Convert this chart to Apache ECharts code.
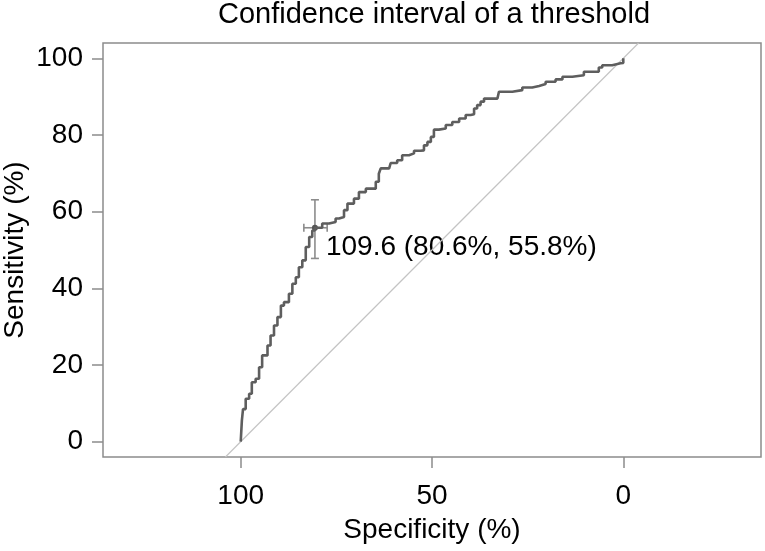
<!DOCTYPE html>
<html>
<head>
<meta charset="utf-8">
<script src="https://cdn.jsdelivr.net/npm/echarts@6/dist/echarts.min.js"></script>
<style>
html,body{margin:0;padding:0;background:#fff;}
#main{width:765px;height:551px;}
</style>
</head>
<body>
<div id="main"></div>
<script>
// ROC curve points (specificity %, sensitivity %)
const specificity = [100, 99.7, 99.4, 98.7, 97.8, 97.1, 96.1, 95.2, 94.4, 93.0, 92.2, 91.3, 90.4, 89.5, 88.7, 87.4, 86.5, 85.6, 84.8, 83.9, 83.0, 82.1, 81.3, 80.6, 78.7, 76.9, 75.2, 74.3, 73.0, 72.1, 70.4, 69.1, 67.3, 65.6, 64.7, 63.9, 63.4, 61.2, 60.8, 59.1, 57.8, 56.0, 54.7, 53.0, 52.1, 51.2, 50.3, 49.5, 48.2, 46.4, 44.7, 42.9, 41.2, 39.9, 39.0, 38.2, 37.3, 36.4, 32.9, 32.5, 29.0, 26.4, 23.8, 22.0, 20.3, 17.7, 15.9, 13.3, 10.3, 6.4, 5.5, 2.9, 0.7, 0];
const sensitivity = [0, 5.5, 8.5, 11.2, 12.5, 15.5, 16.4, 19.4, 22.5, 25.1, 27.7, 30.3, 32.5, 35.5, 36.4, 38.6, 41.2, 42.9, 45.5, 47.3, 50.8, 53.4, 55.1, 55.8, 56.9, 57.3, 58.2, 58.6, 60.4, 62.1, 63.4, 65.1, 66.0, 66.0, 67.8, 69.9, 71.3, 71.3, 72.7, 73.4, 74.7, 75.2, 75.9, 76.0, 77.3, 78.2, 79.5, 81.4, 81.7, 82.6, 83.4, 84.3, 85.2, 85.4, 86.9, 87.8, 88.7, 89.5, 89.5, 91.3, 91.7, 92.4, 92.8, 93.3, 93.9, 94.5, 95.2, 95.6, 96.5, 97.6, 98.2, 98.7, 98.8, 100];

// Threshold and its confidence intervals
const thresholdValue = 109.6;
const thresholdSpec = 80.6;
const thresholdSens = 55.8;
const specCI = [77.4, 83.5];
const sensCI = [47.8, 63.1];

// Chance diagonal (sensitivity = 100 - specificity) over the plotted range
const diagSpec = [104, -4];
const diagSens = [-4, 104];

// Axis ticks and texts
const xTicks = [0, 50, 100];
const yTicks = [0, 20, 40, 60, 80, 100];
const titleText = 'Confidence interval of a threshold';
const xName = 'Specificity (%)';
const yName = 'Sensitivity (%)';

const FONT = "'Liberation Sans', Arial, Helvetica, sans-serif";
const chart = echarts.init(document.getElementById('main'), null, {renderer: 'canvas'});

const rocData = specificity.map((s, i) => [s, sensitivity[i]]);
const diagData = diagSpec.map((s, i) => [s, diagSens[i]]);

const option = {
  animation: false,
  backgroundColor: '#ffffff',
  textStyle: {fontFamily: FONT},
  grid: {left: 103, right: 4, top: 43, bottom: 94, show: true, borderColor: '#8c8c8c', borderWidth: 1.5,
         backgroundColor: 'transparent', containLabel: false, outerBoundsMode: 'none'},
  graphic: [
    {
      type: 'text', x: 434, y: 0,
      style: {text: titleText, textAlign: 'center', textVerticalAlign: 'top', font: '29px ' + FONT, fill: '#000'}
    },
    {
      type: 'text', x: 15, y: 250, rotation: Math.PI / 2,
      style: {text: yName, textAlign: 'center', textVerticalAlign: 'middle', font: '28px ' + FONT, fill: '#000'}
    }
  ],
  xAxis: {
    type: 'value', inverse: true, min: -36, max: 136,
    name: xName, nameLocation: 'middle', nameGap: 59,
    nameTextStyle: {fontSize: 28, color: '#000', fontFamily: FONT},
    axisLine: {show: false, onZero: false},
    splitLine: {show: false},
    axisTick: {show: true, customValues: xTicks, length: 11, lineStyle: {color: '#8c8c8c', width: 1.5}},
    axisLabel: {customValues: xTicks, fontSize: 28, color: '#000', margin: 25, fontFamily: FONT}
  },
  yAxis: {
    type: 'value', min: -4, max: 104,
    axisLine: {show: false, onZero: false},
    splitLine: {show: false},
    axisTick: {show: true, customValues: yTicks, length: 11, lineStyle: {color: '#8c8c8c', width: 1.5}},
    axisLabel: {customValues: yTicks, fontSize: 28, color: '#000', margin: 20, fontFamily: FONT}
  },
  series: [
    {
      type: 'line', data: diagData, symbol: 'none', silent: true,
      lineStyle: {color: '#c4c4c4', width: 1.2}
    },
    {
      type: 'line', data: rocData, step: 'end', symbol: 'none',
      lineStyle: {color: '#5e5e5e', width: 2.6}
    },
    {
      type: 'custom',
      data: [[thresholdSpec, thresholdSens, specCI[0], specCI[1], sensCI[0], sensCI[1]]],
      encode: {x: 0, y: 1},
      renderItem: function (params, api) {
        const xl = api.coord([api.value(2), api.value(1)]);
        const xh = api.coord([api.value(3), api.value(1)]);
        const yl = api.coord([api.value(0), api.value(4)]);
        const yh = api.coord([api.value(0), api.value(5)]);
        const cap = 4;
        const st = {stroke: '#8c8c8c', lineWidth: 1.6};
        const ln = (x1, y1, x2, y2) => ({type: 'line', shape: {x1, y1, x2, y2}, style: st});
        return {type: 'group', children: [
          ln(xl[0], xl[1], xh[0], xh[1]),
          ln(xl[0], xl[1] - cap, xl[0], xl[1] + cap),
          ln(xh[0], xh[1] - cap, xh[0], xh[1] + cap),
          ln(yl[0], yl[1], yh[0], yh[1]),
          ln(yl[0] - cap, yl[1], yl[0] + cap, yl[1]),
          ln(yh[0] - cap, yh[1], yh[0] + cap, yh[1])
        ]};
      }
    },
    {
      type: 'scatter', data: [[thresholdSpec, thresholdSens]],
      symbolSize: 6, itemStyle: {color: '#555', opacity: 1},
      label: {
        show: true, position: 'right', distance: 8, offset: [0, 20],
        formatter: () => thresholdValue + ' (' + thresholdSpec + '%, ' + thresholdSens + '%)',
        fontSize: 28, color: '#000', opacity: 1, fontFamily: FONT
      }
    }
  ]
};
chart.setOption(option);
</script>
</body>
</html>
